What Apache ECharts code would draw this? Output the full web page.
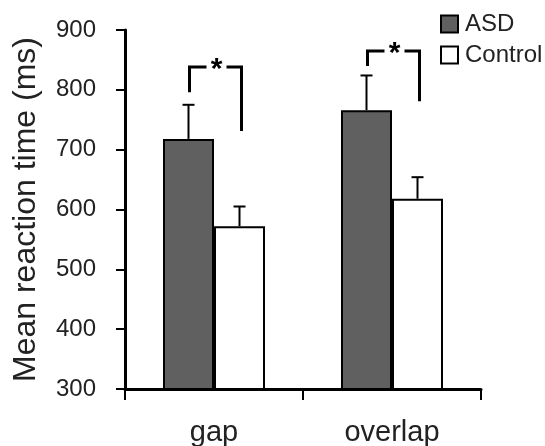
<!DOCTYPE html>
<html>
<head>
<meta charset="utf-8">
<script src="https://cdn.jsdelivr.net/npm/echarts@6/dist/echarts.min.js"></script>
<style>html,body{margin:0;padding:0;background:#fff;}#c{width:545px;height:446px;}</style>
</head>
<body>
<div id="c"></div>
<script>
var categories = ['gap', 'overlap'];
var seriesNames = ['ASD', 'Control'];
var asdMean = [718, 766];
var controlMean = [572, 618];
var asdErrTop = [775, 824];
var controlErrTop = [605, 654];
// significance brackets: [top, left-leg bottom, right-leg bottom]
var bracketTop = [838, 865];
var bracketLeftBottom = [796, 840];
var bracketRightBottom = [731, 781];
var bracketLabel = ['*', '*'];
var yTicks = [300, 400, 500, 600, 700, 800, 900];

var BAR_W = 51;
var FONT = '"Liberation Sans", Arial, sans-serif';

var chart = echarts.init(document.getElementById('c'), null, {renderer: 'canvas'});

function errData(means, tops) {
  return means.map(function (m, i) { return [i, m, tops[i]]; });
}

function errRender(offset) {
  return function (params, api) {
    var c = api.coord([api.value(0), api.value(1)]);
    var t = api.coord([api.value(0), api.value(2)]);
    var x = c[0] + offset;
    return {
      type: 'group',
      children: [
        {type: 'line', shape: {x1: x, y1: c[1], x2: x, y2: t[1]}, style: {stroke: '#000', lineWidth: 2}},
        {type: 'line', shape: {x1: x - 6, y1: t[1], x2: x + 6, y2: t[1]}, style: {stroke: '#000', lineWidth: 2}}
      ]
    };
  };
}

var bracketData = categories.map(function (c, i) {
  return [i, bracketTop[i], bracketLeftBottom[i], bracketRightBottom[i]];
});

var option = {
  animation: false,
  backgroundColor: '#fff',
  grid: {left: 125, right: 64, top: 30, bottom: 57, containLabel: false, outerBoundsMode: 'none'},
  legend: {
    data: seriesNames,
    orient: 'vertical',
    left: 440,
    top: 12,
    icon: 'rect',
    itemWidth: 17,
    itemHeight: 17,
    itemGap: 7,
    padding: 0,
    textStyle: {fontFamily: FONT, fontSize: 24, color: '#222', lineHeight: 24, padding: [0, 0, 0, 2]}
  },
  xAxis: {
    type: 'category',
    data: categories,
    axisLine: {show: true, lineStyle: {color: '#000', width: 3}},
    axisTick: {show: true, length: 11, lineStyle: {color: '#000', width: 2}},
    axisLabel: {fontFamily: FONT, fontSize: 29, color: '#222', margin: 29}
  },
  yAxis: {
    type: 'value',
    min: yTicks[0],
    max: yTicks[yTicks.length - 1],
    interval: 100,
    name: 'Mean reaction time (ms)',
    nameLocation: 'middle',
    nameGap: 83,
    nameTextStyle: {fontFamily: FONT, fontSize: 32, color: '#222'},
    axisLine: {show: true, lineStyle: {color: '#000', width: 3}},
    axisTick: {show: true, length: 9, lineStyle: {color: '#000', width: 2}},
    axisLabel: {fontFamily: FONT, fontSize: 24, color: '#222', margin: 29},
    splitLine: {show: false}
  },
  series: [
    {
      name: seriesNames[0], type: 'bar', data: asdMean, barWidth: BAR_W, barGap: '0%',
      itemStyle: {color: '#606060', borderColor: '#000', borderWidth: 2}
    },
    {
      name: seriesNames[1], type: 'bar', data: controlMean, barWidth: BAR_W, barGap: '0%',
      itemStyle: {color: '#fff', borderColor: '#000', borderWidth: 2}
    },
    {
      type: 'custom', data: errData(asdMean, asdErrTop), renderItem: errRender(-BAR_W / 2), z: 5, silent: true
    },
    {
      type: 'custom', data: errData(controlMean, controlErrTop), renderItem: errRender(BAR_W / 2), z: 5, silent: true
    },
    {
      type: 'custom', data: bracketData, z: 6, silent: true,
      renderItem: function (params, api) {
        var i = api.value(0);
        var top = api.coord([i, api.value(1)]);
        var lb = api.coord([i, api.value(2)]);
        var rb = api.coord([i, api.value(3)]);
        var xl = top[0] - BAR_W / 2 + 1;
        var xr = top[0] + BAR_W / 2 + 2;
        var mid = (xl + xr) / 2 + 1;
        var y = top[1];
        var st = {stroke: '#000', lineWidth: 3, fill: null};
        return {
          type: 'group',
          children: [
            {type: 'polyline', shape: {points: [[xl, lb[1]], [xl, y], [mid - 10, y]]}, style: st},
            {type: 'polyline', shape: {points: [[mid + 10, y], [xr, y], [xr, rb[1]]]}, style: st},
            {type: 'text', x: mid, y: y + 3, style: {text: bracketLabel[i], fontFamily: FONT, fontWeight: 'bold', fontSize: 30, fill: '#000', align: 'center', verticalAlign: 'middle'}}
          ]
        };
      }
    }
  ]
};
chart.setOption(option);
</script>
</body>
</html>
